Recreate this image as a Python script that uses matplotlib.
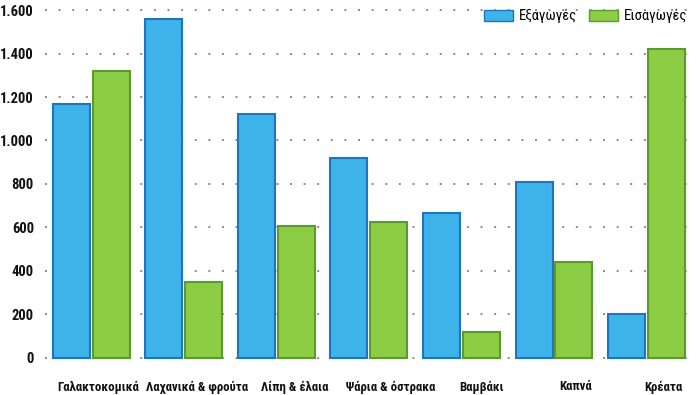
import matplotlib
matplotlib.use("Agg")
import matplotlib.pyplot as plt
import matplotlib.transforms as mtransforms
import numpy as np
from matplotlib.patches import Patch
from matplotlib.ticker import FuncFormatter

categories = ["Γαλακτοκομικά", "Λαχανικά & φρούτα", "Λίπη & έλαια", "Ψάρια & όστρακα",
              "Βαμβάκι", "Καπνά", "Κρέατα"]
exports = [1170, 1560, 1120, 920, 665, 810, 200]
imports = [1320, 350, 605, 625, 120, 440, 1420]
yticks = [0, 200, 400, 600, 800, 1000, 1200, 1400, 1600]
series_names = ["Εξαγωγές", "Εισαγωγές"]

blue, blue_edge = "#3db3ea", "#1f74bf"
green, green_edge = "#8dcc45", "#5b9a2c"

fam = ["Roboto Condensed", "Open Sans Condensed", "Liberation Sans Narrow", "Roboto", "DejaVu Sans"]

fig = plt.figure(figsize=(7, 3.95), dpi=100)
ax = fig.add_axes([45/700, 1 - 368/395, 645/700, 363/395])

x = np.arange(len(categories))
w = 0.40
ax.bar(x - 0.215, exports, w, color=blue, edgecolor=blue_edge, linewidth=1.5, zorder=3)
ax.bar(x + 0.215, imports, w, color=green, edgecolor=green_edge, linewidth=1.5, zorder=3)

ax.set_xlim(-0.50, 6.47)
ax.set_ylim(-46, 1623)
ax.set_yticks(yticks)
ax.yaxis.set_major_formatter(FuncFormatter(lambda v, p: f"{int(v):,}".replace(",", ".")))
ax.grid(axis="y", linestyle=(0, (1, 6)), color="#8a8a8a", linewidth=1.4, zorder=0)
ax.set_xticks(x)
ax.set_xticklabels(categories)
for s in ax.spines.values():
    s.set_visible(False)
ax.tick_params(axis="both", length=0)
ax.tick_params(axis="y", pad=8)
ax.tick_params(axis="x", pad=9)
for t in ax.get_yticklabels():
    t.set_fontfamily(fam); t.set_fontweight("bold"); t.set_fontsize(10.5); t.set_color("#111111")
    t.set_fontstretch("condensed")
label_shift_px = [7, 13, 18, 22, 20, 22, 17]
for t, dx in zip(ax.get_xticklabels(), label_shift_px):
    t.set_fontfamily(fam); t.set_fontweight("bold"); t.set_fontsize(9.2); t.set_color("#111111")
    t.set_fontstretch("condensed")
    t.set_transform(t.get_transform() + mtransforms.ScaledTranslation(dx/100, 0, fig.dpi_scale_trans))

handles = [Patch(facecolor=blue, edgecolor=blue_edge), Patch(facecolor=green, edgecolor=green_edge)]
fig.legend(handles, series_names, loc="upper right", bbox_to_anchor=(1.0, 1.01), ncol=2,
           frameon=False, prop={"family": fam, "size": 10.5, "stretch": "condensed"},
           handlelength=2.0, handleheight=0.8, columnspacing=0.8, handletextpad=0.4)

fig.savefig("out.png", dpi=100)
